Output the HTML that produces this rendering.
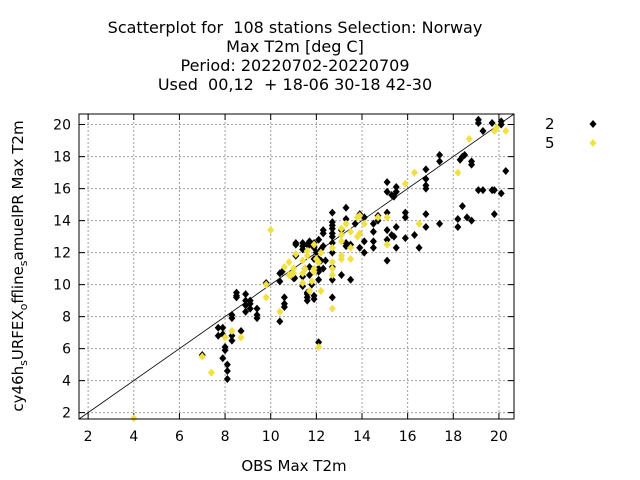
<!DOCTYPE html>
<html><head><meta charset="utf-8"><style>
body{margin:0;background:#fff;}
svg{display:block;font-family:"DejaVu Sans","Liberation Sans",sans-serif;}
text{white-space:pre;}
</style></head><body>
<svg id="chart" width="640" height="480" xml:space="preserve">
<g font-size="16" text-anchor="middle" fill="#000">
<text x="295" y="33">Scatterplot for  108 stations Selection: Norway</text>
<text x="295" y="52">Max T2m [deg C]</text>
<text x="295" y="71">Period: 20220702-20220709</text>
<text x="295" y="90">Used  00,12  + 18-06 30-18 42-30</text>
</g>
<text x="294" y="471" font-size="15" text-anchor="middle">OBS Max T2m</text>
<text transform="translate(23,266) rotate(-90)" font-size="15" text-anchor="middle">cy46h<tspan font-size="11" dy="4">s</tspan><tspan dy="-4">URFEX</tspan><tspan font-size="11" dy="4">o</tspan><tspan dy="-4">ffline</tspan><tspan font-size="11" dy="4">s</tspan><tspan dy="-4">amuelPR Max T2m</tspan></text>
<g id="grid"></g>
<g id="ticks"></g>
<g id="marks"></g>
<rect x="79" y="114" width="435" height="305" fill="none" stroke="#000" stroke-width="1"/>
<g font-size="15">
<text x="545" y="129">2</text>
<path d="M593,120 l3.5,4 l-3.5,4 l-3.5,-4z" fill="#000"/>
<text x="545" y="148">5</text>
<path d="M593,139 l3.5,4 l-3.5,4 l-3.5,-4z" fill="#f0e040"/>
</g>
</svg>
<script>
const ticks=[2,4,6,8,10,12,14,16,18,20];
const s2x=[7.0,7.7,7.7,7.9,7.9,8.0,8.0,7.9,8.1,8.1,8.1,8.3,8.3,8.3,8.3,8.7,8.5,8.5,8.5,8.9,8.9,8.9,8.9,9.1,9.1,9.1,9.4,9.4,9.4,9.8,10.4,10.4,10.4,10.6,10.6,10.6,10.5,11.0,11.0,11.4,11.4,11.4,11.6,11.4,11.5,11.8,11.9,11.9,11.9,12.1,12.1,12.1,12.0,12.2,12.2,12.4,12.3,
19.1,19.1,19.7,20.1,20.1,19.3,17.4,17.4,18.3,18.4,18.5,18.8,18.8,19.8,20.3,19.1,19.3,19.7,20.1,19.8,18.4,18.6,18.8,18.2,18.2,17.4,16.8,16.8,16.8,16.8,16.8,16.8,16.5,16.3,15.9,15.9,15.9,15.1,15.1,15.3,15.4,15.5,15.5,15.1,15.1,15.1,15.1,15.5,15.5,15.3,15.4,14.5,14.5,14.5,14.5,14.7,14.7,13.9,13.7,14.1,13.9,14.1,14.1,13.3,13.3,13.3,13.3,13.5,13.5,13.1,13.1,12.7,12.7,12.7,12.7,12.7,12.7,12.7,12.7,12.7,12.7,12.7,12.3,12.3,12.3,12.1,12.1,12.1,11.7,11.7,11.7,11.7,11.9,11.9,11.9,11.6,11.6,11.6,11.6,11.4,11.05,11.1,11.1,11.1];
const s2y=[5.6,7.3,6.8,7.3,6.9,6.1,5.9,5.4,5.0,4.6,4.1,8.1,7.9,6.8,6.5,7.1,9.5,9.3,9.2,9.4,9.0,8.7,8.3,9.0,8.8,8.5,8.5,8.1,7.9,10.1,10.7,10.2,7.7,9.2,8.8,8.6,10.8,10.4,10.5,12.6,12.4,12.2,12.5,10.5,11.0,10.0,9.3,9.1,12.3,12.8,11.6,11.0,12.0,12.2,11.5,11.5,11.0,
20.3,20.1,20.1,20.2,20.0,19.6,18.1,17.7,17.8,18.0,18.1,17.7,17.5,15.9,17.1,15.9,15.9,15.9,15.7,14.4,14.9,14.2,14.0,14.1,13.6,13.8,17.2,16.6,16.2,16.0,14.4,13.6,12.3,13.1,12.9,14.5,14.2,16.4,15.8,15.6,15.5,15.8,16.1,14.5,13.4,12.8,11.5,13.6,12.3,13.1,13.0,13.8,13.3,12.3,12.7,14.3,14.0,14.4,13.8,14.2,12.3,12.7,12.0,14.8,14.1,12.4,12.6,10.3,12.5,13.4,10.6,14.5,13.9,13.7,13.5,13.2,13.0,12.6,12.0,11.1,10.3,9.2,13.4,13.2,12.4,10.8,10.3,6.4,12.7,12.5,11.1,10.6,12.6,12.4,11.6,9.4,9.2,9.0,9.5,9.9,10.4,12.6,12.5,11.8];
const s5x=[4.0,7.0,7.4,8.0,8.3,8.7,9.8,9.8,10.0,10.4,10.6,10.8,10.8,11.0,11.0,11.4,11.4,11.6,11.6,11.8,11.9,11.9,12.0,12.2,12.2,
18.7,19.8,19.9,20.3,18.2,16.3,15.9,16.5,15.1,15.1,14.7,13.8,13.9,14.1,13.9,13.8,13.5,13.3,13.1,13.1,13.1,13.5,13.1,13.1,13.5,12.7,12.7,12.7,12.7,12.7,12.1,12.1,11.7,11.4,11.5,11.9,11.1,10.9];
const s5y=[1.65,5.5,4.5,6.7,7.1,6.7,10.0,9.2,13.4,8.3,11.1,11.4,10.6,11.0,10.7,11.5,10.7,12.1,11.8,10.2,11.0,10.8,11.6,9.6,12.0,
19.1,19.6,19.8,19.6,17.0,17.0,16.3,13.8,14.2,12.5,14.2,14.2,14.3,13.8,13.2,13.0,13.3,13.8,13.5,13.1,12.7,12.3,11.8,11.6,11.6,12.3,11.4,11.0,10.6,8.5,11.4,6.1,9.6,10.1,11.0,12.5,11.9,10.6];
const L=79,R=514,T=114,B=419,MIN=1.6,MAX=20.66;
const xs=v=>L+(v-MIN)/(MAX-MIN)*(R-L);
const ys=v=>B-(v-MIN)/(MAX-MIN)*(B-T);
const NS="http://www.w3.org/2000/svg";
function mk(tag,at,parent){const e=document.createElementNS(NS,tag);for(const k in at)e.setAttribute(k,at[k]);parent.appendChild(e);return e;}
const grid=document.getElementById('grid'),tk=document.getElementById('ticks'),marks=document.getElementById('marks');
ticks.forEach(t=>{
 const x=xs(t),y=ys(t);
 let g1=mk('line',{x1:x,x2:x,y1:T,y2:B,stroke:'#a0a0a0','stroke-dasharray':'2,2','stroke-width':1},grid);
 
 
 let g2=mk('line',{x1:L,x2:R,y1:y,y2:y,stroke:'#a0a0a0','stroke-dasharray':'2,2','stroke-width':1},grid);
 
 
 mk('path',{d:`M${x},${B}v-6M${x},${T}v6M${L},${y}h6M${R},${y}h-6`,stroke:'#000'},tk);
 let tx=mk('text',{x:x,y:B+22,'font-size':14,'text-anchor':'middle'},tk);tx.textContent=t;
 
 
 let ty=mk('text',{x:L-8,y:y+5,'font-size':14,'text-anchor':'end'},tk);ty.textContent=t;
 
 
});
const diag=mk('line',{x1:xs(MIN),y1:ys(MIN),x2:xs(MAX),y2:ys(MAX),stroke:'#000','stroke-width':0.8},marks);


function plot(xa,ya,col,name){
 for(let i=0;i<xa.length;i++){
  const x=xs(xa[i]),y=ys(ya[i]);
  const p=mk('path',{d:`M${x},${y-4}l3.5,4l-3.5,4l-3.5,-4z`,fill:col},marks);
  
  
 }
}
plot(s2x,s2y,'#000','point-series-2');
plot(s5x,s5y,'#f0e040','point-series-5');
</script>
</body></html>
